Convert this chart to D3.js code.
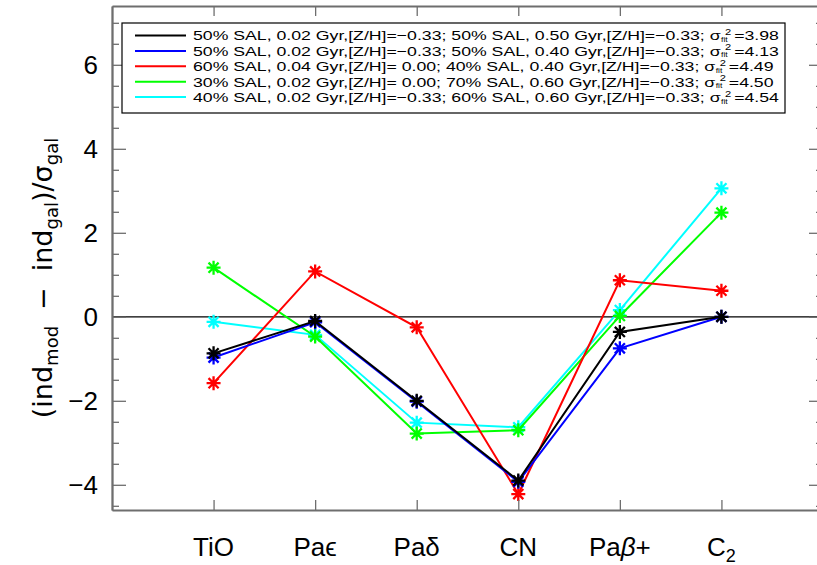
<!DOCTYPE html>
<html><head><meta charset="utf-8">
<script src="https://cdn.jsdelivr.net/npm/d3@7"></script>
<style>
body{margin:0;background:#fff}
svg{display:block;font-family:"Liberation Sans",Arial,sans-serif}
</style>
</head><body>
<svg id="chart" width="817" height="565"></svg>
<script>
// Spectral indices along the x axis
const indexNames = ["TiO", "Paϵ", "Paδ", "CN", "Paβ+", "C2"];

// (ind_mod - ind_gal)/sigma_gal for each two-population model
const fitBlack = [-0.87, -0.10, -2.00, -3.90, -0.36, 0.00];
const fitBlue  = [-0.97, -0.13, -2.02, -3.93, -0.75, 0.00];
const fitRed   = [-1.58,  1.08, -0.25, -4.22,  0.87, 0.62];
const fitGreen = [ 1.17, -0.47, -2.78, -2.70,  0.02, 2.48];
const fitCyan  = [-0.12, -0.43, -2.52, -2.63,  0.16, 3.06];

const modelLabels = [
  "50% SAL, 0.02 Gyr,[Z/H]=\u22120.33; 50% SAL, 0.50 Gyr,[Z/H]=\u22120.33; ",
  "50% SAL, 0.02 Gyr,[Z/H]=\u22120.33; 50% SAL, 0.40 Gyr,[Z/H]=\u22120.33; ",
  "60% SAL, 0.04 Gyr,[Z/H]= 0.00; 40% SAL, 0.40 Gyr,[Z/H]=\u22120.33; ",
  "30% SAL, 0.02 Gyr,[Z/H]= 0.00; 70% SAL, 0.60 Gyr,[Z/H]=\u22120.33; ",
  "40% SAL, 0.02 Gyr,[Z/H]=\u22120.33; 60% SAL, 0.60 Gyr,[Z/H]=\u22120.33; "
];
const sigmaFit = ["3.98", "4.13", "4.49", "4.50", "4.54"];
const modelColors = ["#000000", "#0000ff", "#ff0000", "#00ff00", "#00ffff"];

const yMajor = [-4, -2, 0, 2, 4, 6];
const yMinor = d3.range(-4.5, 7.01, 0.5).filter(v => !yMajor.includes(v));

const svg = d3.select("#chart");
const L = 112, R = 823, T = 6, B = 510;
const x = d3.scaleLinear().domain([0, 7]).range([L, R]);
const y = d3.scaleLinear().domain([-4.6, 7.4]).range([B, T]);
const frameColor = "#6e6e6e";

// zero reference line
svg.append("line")
  .attr("x1", L).attr("x2", R).attr("y1", y(0)).attr("y2", y(0))
  .attr("stroke", "#000").attr("stroke-width", 1.2);

// model curves, drawn so black ends up on top
const series = [
  {vals: fitCyan,  c: modelColors[4]},
  {vals: fitGreen, c: modelColors[3]},
  {vals: fitRed,   c: modelColors[2]},
  {vals: fitBlue,  c: modelColors[1]},
  {vals: fitBlack, c: modelColors[0]}
];
const line = d3.line().x((d, i) => x(i + 1)).y(d => y(d));
const star = s => {
  const d = s * 0.72;
  return `M0,${-s}V${s}M${-s},0H${s}M${-d},${-d}L${d},${d}M${-d},${d}L${d},${-d}`;
};
series.forEach(s => {
  svg.append("path").datum(s.vals)
    .attr("d", line).attr("fill", "none")
    .attr("stroke", s.c).attr("stroke-width", 2);
  svg.append("g").selectAll("path").data(s.vals).join("path")
    .attr("transform", (d, i) => `translate(${x(i + 1)},${y(d)})`)
    .attr("d", star(7))
    .attr("stroke", s.c).attr("stroke-width", 2.3).attr("fill", "none");
});

// axes (ticks point inward)
function styleAxis(g) {
  g.select(".domain").attr("stroke", frameColor).attr("stroke-width", 1.8);
  g.selectAll(".tick line").attr("stroke", frameColor).attr("stroke-width", 1.3);
}
const gl = svg.append("g").attr("transform", `translate(${L},0)`)
  .call(d3.axisLeft(y).tickValues(yMajor).tickSize(-14).tickSizeOuter(0).tickPadding(14)
    .tickFormat(d => d < 0 ? "\u2212" + Math.abs(d) : d))
  .call(styleAxis);
gl.selectAll("text").attr("font-size", 26).attr("fill", "#000")
  .attr("font-family", "Liberation Sans, Arial, sans-serif");
svg.append("g").attr("transform", `translate(${L},0)`)
  .call(d3.axisLeft(y).tickValues(yMinor).tickSize(-7).tickSizeOuter(0).tickFormat(""))
  .call(styleAxis);
svg.append("g").attr("transform", `translate(${R},0)`)
  .call(d3.axisRight(y).tickValues(yMajor).tickSize(-14).tickSizeOuter(0).tickFormat(""))
  .call(styleAxis);
svg.append("g").attr("transform", `translate(${R},0)`)
  .call(d3.axisRight(y).tickValues(yMinor).tickSize(-7).tickSizeOuter(0).tickFormat(""))
  .call(styleAxis);
svg.append("g").attr("transform", `translate(0,${B})`)
  .call(d3.axisBottom(x).tickValues(d3.range(1, 7)).tickSize(-10).tickSizeOuter(0).tickFormat(""))
  .call(styleAxis);
svg.append("g").attr("transform", `translate(0,${T})`)
  .call(d3.axisTop(x).tickValues(d3.range(1, 7)).tickSize(-10).tickSizeOuter(0).tickFormat(""))
  .call(styleAxis);

// x tick labels (index names, C2 with subscript)
const xl = svg.append("g").attr("font-size", 26).attr("fill", "#000");
indexNames.forEach((name, i) => {
  const t = xl.append("text").attr("x", x(i + 1)).attr("y", 556).attr("text-anchor", "middle");
  if (name === "C2") {
    t.append("tspan").text("C");
    t.append("tspan").attr("dy", 6).attr("font-size", 18).text("2");
  } else if (name === "Paβ+") {
    t.append("tspan").text("Pa");
    t.append("tspan").attr("font-style", "italic").text("β");
    t.append("tspan").text("+");
  } else {
    t.text(name);
  }
});

// y axis title
const yt = svg.append("text")
  .attr("transform", "translate(52,278) rotate(-90)")
  .attr("text-anchor", "middle").attr("font-size", 27).attr("fill", "#000")
  .attr("font-family", "DejaVu Sans, sans-serif");
const parts = [["(ind", 0, 0], ["mod", 1, 0], ["\u2212", 0, 16], ["ind", 0, 16], ["gal", 1, 0], [")/\u03c3", 0, 0], ["gal", 1, 0]];
let prevSub = false;
parts.forEach(([s, sub, gap]) => {
  const ts = yt.append("tspan").text(s);
  if (gap) ts.attr("dx", gap);
  if (sub) ts.attr("font-size", 18).attr("dy", 6);
  else if (prevSub) ts.attr("dy", -6);
  prevSub = !!sub;
});

// legend
const lg = svg.append("g");
lg.append("rect").attr("x", 122).attr("y", 23).attr("width", 663).attr("height", 90)
  .attr("fill", "#fff").attr("stroke", "#000").attr("stroke-width", 1.2);
const rowY = i => 35.5 + i * 15.4;
modelLabels.forEach((lab, i) => {
  const cy = rowY(i);
  lg.append("line").attr("x1", 135).attr("x2", 186).attr("y1", cy).attr("y2", cy)
    .attr("stroke", modelColors[i]).attr("stroke-width", 2);
  const row = lg.append("g").attr("class", "row");
  const t = row.append("text").attr("x", 0).attr("y", cy + 5)
    .attr("font-size", 13.5).attr("fill", "#000");
  t.append("tspan").text(lab);
  t.append("tspan").text("\u03c3");
  const w = t.node().getComputedTextLength();
  row.append("text").attr("x", w).attr("y", cy + 6.5).attr("font-size", 6.5).text("fit");
  row.append("text").attr("x", w + 3).attr("y", cy - 0.5).attr("font-size", 8.5).text("2");
  row.append("text").attr("x", w + 10).attr("y", cy + 5).attr("font-size", 13.5).text("=" + sigmaFit[i]);
});
// fit all rows into the space between the line samples and the box edge
const rows = lg.selectAll("g.row");
const w0 = rows.nodes()[0].getBBox().width;
const sx = (779 - 193) / w0;
rows.attr("transform", `translate(193,0) scale(${sx},1)`);
</script>
</body></html>
